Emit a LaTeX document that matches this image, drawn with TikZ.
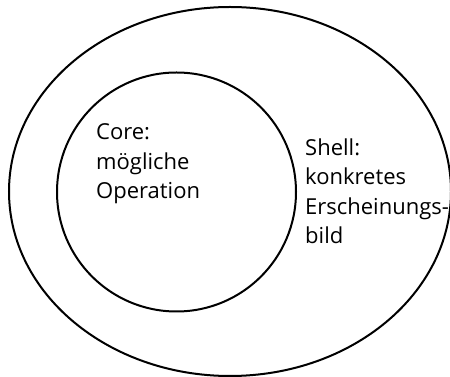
\documentclass[tikz,border=0pt]{standalone}
\usetikzlibrary{shapes.geometric}
\usepackage{fontspec}
\setmainfont{Open Sans}
\begin{document}
\begin{tikzpicture}[x=1pt,y=1pt,
  ring/.style={draw=black,line width=2pt},
  label/.style={inner sep=0pt,anchor=base west,align=left,
    font=\fontsize{22}{29.5}\selectfont}]
  \useasboundingbox (0,0) rectangle (450,377);
  % shell and core
  \node[ring,ellipse,minimum width=442pt,minimum height=369pt,inner sep=0pt] (shell) at (230,185.5) {};
  \node[ring,circle,minimum size=239pt,inner sep=0pt] (core) at (176.5,185) {};
  % labels (anchored at the baseline of their last line)
  \node[label] (coretext) at (96,178) {Core:\\m\"ogliche\\Operation};
  \node[label] (shelltext) at (305,133) {Shell:\\konkretes\\Erscheinungs-\\bild};
\end{tikzpicture}
\end{document}
